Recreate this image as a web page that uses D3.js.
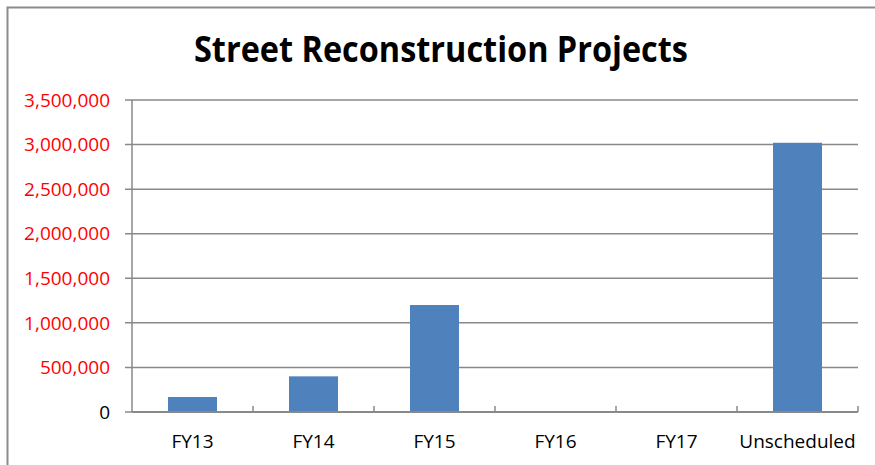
<!DOCTYPE html>
<html>
<head>
<meta charset="utf-8">
<script src="https://cdn.jsdelivr.net/npm/d3@7"></script>
<style>
  body { margin: 0; background: #fff; }
  svg { display: block; font-family: "Open Sans", "Liberation Sans", sans-serif; }
</style>
</head>
<body>
<svg width="875" height="465"></svg>
<script>
// data
var categories = ['FY13', 'FY14', 'FY15', 'FY16', 'FY17', 'Unscheduled'];
var amounts = [168000, 400000, 1200000, 0, 0, 3020000];
var yTicks = [0, 500000, 1000000, 1500000, 2000000, 2500000, 3000000, 3500000];

var margins = {top: 100, right: 17, bottom: 53, left: 132},
	svgWidth = 875,
	svgHeight = 465,
	width = svgWidth - margins.left - margins.right,
	height = svgHeight - margins.top - margins.bottom,
	grid_color = '#898989',
	bar_color = '#4f81bd',
	label_size = 19;

var vis = d3.select('svg');

// outer frame
vis.append('rect')
	.attr('x', 7.5).attr('y', 7.5)
	.attr('width', svgWidth + 10).attr('height', svgHeight + 10)
	.attr('fill', 'none')
	.attr('stroke', '#8c8c8c')
	.attr('stroke-width', 2);

// title
vis.append('text')
	.attr('x', 441)
	.attr('y', 62)
	.attr('text-anchor', 'middle')
	.attr('font-size', 35)
	.attr('font-weight', 'bold')
	.attr('textLength', 494)
	.attr('lengthAdjust', 'spacingAndGlyphs')
	.text('Street Reconstruction Projects');

var g = vis.append('g')
	.attr('transform', 'translate(' + margins.left + ',' + margins.top + ')');

var x = d3.scaleBand().domain(categories).range([0, width]).paddingInner(0.6).paddingOuter(0.3);
var xCat = d3.scaleBand().domain(categories).range([0, width]);
var y = d3.scaleLinear().domain([0, 3500000]).range([height, 0]);

// gridlines + y ticks
g.selectAll('.grid')
	.data(yTicks)
	.enter().append('line')
	.attr('x1', -7)
	.attr('x2', width)
	.attr('y1', function(d) { return y(d); })
	.attr('y2', function(d) { return y(d); })
	.attr('stroke', grid_color)
	.attr('stroke-width', 1.5);

g.selectAll('.ylab')
	.data(yTicks)
	.enter().append('text')
	.attr('x', -22)
	.attr('y', function(d) { return y(d); })
	.attr('dy', '0.35em')
	.attr('text-anchor', 'end')
	.attr('font-size', label_size)
	.attr('fill', function(d) { return d === 0 ? '#000' : '#ff0000'; })
	.text(function(d) { return d3.format(',')(d); });

// bars
g.selectAll('.bar')
	.data(amounts)
	.enter().append('rect')
	.attr('x', function(d, i) { return x(categories[i]) + (x.bandwidth() - 49) / 2; })
	.attr('width', 49)
	.attr('y', function(d) { return y(d); })
	.attr('height', function(d) { return height - y(d); })
	.attr('fill', bar_color);

// y axis line
g.append('line')
	.attr('x1', 0).attr('x2', 0)
	.attr('y1', 0).attr('y2', height)
	.attr('stroke', grid_color)
	.attr('stroke-width', 1.5);

// x axis line + category ticks
g.append('line')
	.attr('x1', 0).attr('x2', width)
	.attr('y1', height).attr('y2', height)
	.attr('stroke', grid_color)
	.attr('stroke-width', 2);

g.selectAll('.xtick')
	.data(categories)
	.enter().append('line')
	.attr('x1', function(d) { return xCat(d) + xCat.bandwidth(); })
	.attr('x2', function(d) { return xCat(d) + xCat.bandwidth(); })
	.attr('y1', height - 6)
	.attr('y2', height)
	.attr('stroke', grid_color)
	.attr('stroke-width', 1.5);

g.selectAll('.xlab')
	.data(categories)
	.enter().append('text')
	.attr('x', function(d) { return xCat(d) + xCat.bandwidth() / 2; })
	.attr('y', height + 36)
	.attr('text-anchor', 'middle')
	.attr('font-size', label_size)
	.text(function(d) { return d; });
</script>
</body>
</html>
